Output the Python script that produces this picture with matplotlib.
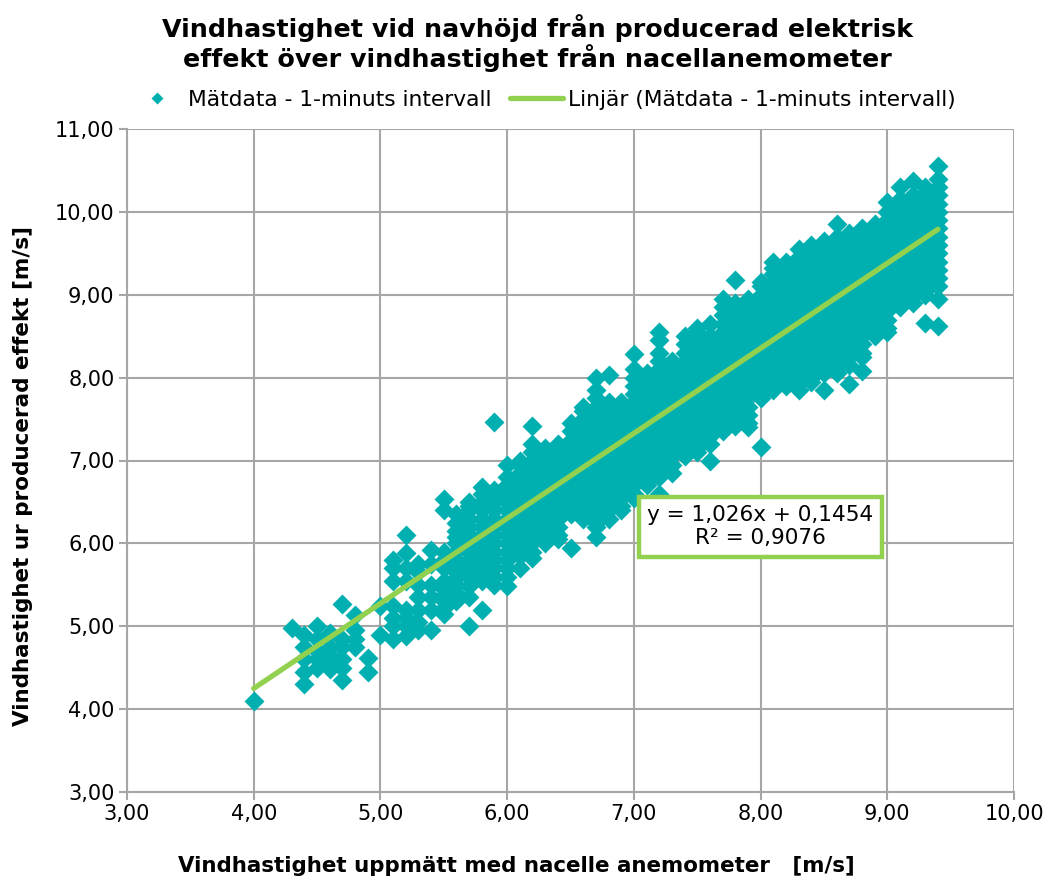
"""
Vindhastighet vid navhöjd mot nacelle-anemometer, spridningsdiagram med linjär trend.
Värdena är avlästa ur bilden, en lista per x-kolumn (0,1 m/s steg).
"""
import matplotlib
matplotlib.use('Agg')
import matplotlib.pyplot as plt
import numpy as np

plt.rcParams['font.family'] = ['DejaVu Sans']

# nacelle wind speed columns
wind_x = [4.0, 4.3, 4.4, 4.5, 4.6, 4.7, 4.8, 4.9, 5.0,
          5.1, 5.2, 5.3, 5.4, 5.5, 5.6, 5.7, 5.8, 5.9, 6.0,
          6.1, 6.2, 6.3, 6.4, 6.5, 6.6, 6.7, 6.8, 6.9, 7.0,
          7.1, 7.2, 7.3, 7.4, 7.5, 7.6, 7.7, 7.8, 7.9, 8.0,
          8.1, 8.2, 8.3, 8.4, 8.5, 8.6, 8.7, 8.8, 8.9, 9.0,
          9.1, 9.2, 9.3, 9.4]

# power-derived wind speed, one list for each column above
wind_y = [
    [4.10],
    [4.98],
    [4.30, 4.45, 4.60, 4.75, 4.90],
    [4.50, 4.60, 4.70, 4.85, 5.00],
    [4.48, 4.55, 4.65, 4.75, 4.92],
    [4.35, 4.50, 4.60, 4.75, 4.85, 5.27],
    [4.75, 4.85, 4.95, 5.13],
    [4.45, 4.62],
    [4.90, 5.25],
    [4.85, 5.00, 5.10, 5.25, 5.55, 5.70, 5.80],
    [4.88, 5.00, 5.10, 5.20, 5.55, 5.70, 5.88, 6.10],
    [4.95, 5.05, 5.20, 5.35, 5.50, 5.65, 5.75],
    [4.96, 5.20, 5.35, 5.50, 5.75, 5.92],
    [5.15, 5.22, 5.30, 5.38, 5.45, 5.55, 5.70, 5.80, 5.90, 6.40, 6.53],
    [5.30, 5.40, 5.50, 5.58, 5.65, 5.72, 5.80, 5.90, 6.00, 6.08, 6.15, 6.25, 6.35],
    [5.00, 5.35, 5.48, 5.60, 5.70, 5.80, 5.90, 6.00, 6.10, 6.20, 6.30, 6.40, 6.45, 6.50],
    [5.20, 5.55, 5.65, 5.75, 5.85, 5.95, 6.02, 6.10, 6.20, 6.30, 6.40, 6.50, 6.60, 6.68],
    [5.50, 5.60, 5.70, 5.80, 5.90, 6.00, 6.10, 6.20, 6.30, 6.40, 6.50, 6.58, 6.65, 7.47],
    [5.48, 5.60, 5.70, 5.80, 5.90, 6.00, 6.10, 6.20, 6.30, 6.40, 6.50, 6.60, 6.70, 6.80, 6.95],
    [5.70, 5.85, 5.95, 6.05, 6.15, 6.25, 6.35, 6.45, 6.55, 6.65, 6.75, 6.85, 6.95, 7.00],
    [5.82, 5.90, 6.00, 6.10, 6.20, 6.30, 6.40, 6.50, 6.60, 6.70, 6.80, 6.90, 7.00, 7.10, 7.20, 7.42],
    [6.00, 6.05, 6.15, 6.25, 6.35, 6.45, 6.55, 6.65, 6.75, 6.85, 6.95, 7.05, 7.15],
    [6.05, 6.10, 6.20, 6.30, 6.40, 6.50, 6.60, 6.70, 6.80, 6.90, 7.00, 7.10, 7.20],
    [5.94, 6.35, 6.45, 6.55, 6.65, 6.75, 6.85, 6.95, 7.05, 7.15, 7.25, 7.35, 7.45],
    [6.30, 6.40, 6.50, 6.60, 6.70, 6.80, 6.90, 7.00, 7.10, 7.20, 7.30, 7.40, 7.50, 7.60, 7.65],
    [6.08, 6.20, 6.25, 6.35, 6.45, 6.55, 6.65, 6.75, 6.85, 6.95, 7.05, 7.15, 7.25, 7.35, 7.45,
     7.55, 7.65, 7.75, 7.85, 8.00],
    [6.30, 6.40, 6.50, 6.60, 6.70, 6.80, 6.90, 7.00, 7.10, 7.20, 7.30, 7.40, 7.50, 7.60, 7.70, 8.03],
    [6.40, 6.45, 6.55, 6.65, 6.75, 6.85, 6.95, 7.05, 7.15, 7.25, 7.35, 7.45, 7.55, 7.65, 7.70],
    [6.55, 6.60, 6.70, 6.80, 6.90, 7.00, 7.10, 7.20, 7.30, 7.40, 7.50, 7.60, 7.70, 7.80, 7.90,
     8.00, 8.10, 8.28],
    [6.70, 6.75, 6.85, 6.95, 7.05, 7.15, 7.25, 7.35, 7.45, 7.55, 7.65, 7.75, 7.85, 7.95, 8.05],
    [6.60, 6.80, 6.90, 7.00, 7.10, 7.20, 7.30, 7.40, 7.50, 7.60, 7.70, 7.80, 7.90, 8.00, 8.10,
     8.20, 8.30, 8.45, 8.55],
    [6.85, 6.95, 7.05, 7.15, 7.25, 7.35, 7.45, 7.55, 7.65, 7.75, 7.85, 7.95, 8.05, 8.12, 8.20],
    [7.05, 7.10, 7.20, 7.30, 7.40, 7.50, 7.60, 7.70, 7.80, 7.90, 8.00, 8.10, 8.20, 8.30, 8.40, 8.50],
    [7.10, 7.15, 7.25, 7.35, 7.45, 7.55, 7.65, 7.75, 7.85, 7.95, 8.05, 8.15, 8.25, 8.35, 8.45,
     8.55, 8.60],
    [7.00, 7.20, 7.30, 7.40, 7.50, 7.60, 7.70, 7.80, 7.90, 8.00, 8.10, 8.20, 8.30, 8.40, 8.50, 8.65],
    [7.35, 7.45, 7.55, 7.65, 7.75, 7.85, 7.95, 8.05, 8.15, 8.25, 8.35, 8.45, 8.55, 8.65, 8.75,
     8.85, 8.95],
    [7.42, 7.50, 7.60, 7.70, 7.80, 7.90, 8.00, 8.10, 8.20, 8.30, 8.40, 8.50, 8.60, 8.70, 8.80,
     8.90, 9.18],
    [7.40, 7.45, 7.55, 7.65, 7.75, 7.85, 7.95, 8.05, 8.15, 8.25, 8.35, 8.45, 8.55, 8.65, 8.75,
     8.85, 8.95],
    [7.16, 7.75, 7.80, 7.90, 8.00, 8.10, 8.20, 8.30, 8.40, 8.50, 8.60, 8.70, 8.80, 8.90, 9.00,
     9.10, 9.15],
    [7.85, 7.95, 8.05, 8.15, 8.25, 8.35, 8.45, 8.55, 8.65, 8.75, 8.85, 8.95, 9.05, 9.15, 9.25,
     9.32, 9.40],
    [7.90, 8.00, 8.10, 8.20, 8.30, 8.40, 8.50, 8.60, 8.70, 8.80, 8.90, 9.00, 9.10, 9.20, 9.30, 9.40],
    [7.85, 7.95, 8.05, 8.15, 8.25, 8.35, 8.45, 8.55, 8.65, 8.75, 8.85, 8.95, 9.05, 9.15, 9.25,
     9.35, 9.45, 9.55],
    [7.95, 8.00, 8.10, 8.20, 8.30, 8.40, 8.50, 8.60, 8.70, 8.80, 8.90, 9.00, 9.10, 9.20, 9.30,
     9.40, 9.50, 9.60],
    [7.85, 8.05, 8.15, 8.25, 8.35, 8.45, 8.55, 8.65, 8.75, 8.85, 8.95, 9.05, 9.15, 9.25, 9.35,
     9.45, 9.55, 9.65],
    [8.05, 8.10, 8.20, 8.30, 8.40, 8.50, 8.60, 8.70, 8.80, 8.90, 9.00, 9.10, 9.20, 9.30, 9.40,
     9.50, 9.60, 9.70, 9.85],
    [7.92, 8.15, 8.25, 8.35, 8.45, 8.55, 8.65, 8.75, 8.85, 8.95, 9.05, 9.15, 9.25, 9.35, 9.45,
     9.55, 9.65, 9.75],
    [8.08, 8.25, 8.30, 8.40, 8.50, 8.60, 8.70, 8.80, 8.90, 9.00, 9.10, 9.20, 9.30, 9.40, 9.50,
     9.60, 9.70, 9.80],
    [8.50, 8.55, 8.65, 8.75, 8.85, 8.95, 9.05, 9.15, 9.25, 9.35, 9.45, 9.55, 9.65, 9.75, 9.85],
    [8.55, 8.60, 8.70, 8.80, 8.90, 9.00, 9.10, 9.20, 9.30, 9.40, 9.50, 9.60, 9.70, 9.80, 9.90,
     10.00, 10.12],
    [8.85, 8.95, 9.05, 9.15, 9.25, 9.35, 9.45, 9.55, 9.65, 9.75, 9.85, 9.95, 10.05, 10.15, 10.30],
    [8.90, 9.00, 9.10, 9.20, 9.30, 9.40, 9.50, 9.60, 9.70, 9.80, 9.90, 10.00, 10.10, 10.20, 10.37],
    [8.66, 9.00, 9.05, 9.15, 9.25, 9.35, 9.45, 9.55, 9.65, 9.75, 9.85, 9.95, 10.05, 10.15, 10.22, 10.30],
    [8.62, 8.95, 9.10, 9.20, 9.30, 9.40, 9.50, 9.60, 9.70, 9.80, 9.90, 10.00,
     10.10, 10.20, 10.30, 10.40, 10.55],
]

# trendline ends, as Excel drew them
trend_x = [4.0, 9.4]
trend_y = [4.25, 9.79]

x_ticks = [3, 4, 5, 6, 7, 8, 9, 10]
y_ticks = [3, 4, 5, 6, 7, 8, 9, 10, 11]

TEAL = '#00B0B0'
GREEN = '#92D14F'
GRID = '#A6A6A6'
W, H = 1047, 877


def comma(v):
    return f'{v:.2f}'.replace('.', ',')


fig = plt.figure(figsize=(W / 100, H / 100), dpi=100)
ax = fig.add_axes([127 / W, 1 - 792 / H, (1014 - 127) / W, (792 - 129) / H])

xs = np.concatenate([[x] * len(ys) for x, ys in zip(wind_x, wind_y)])
ys = np.concatenate(wind_y)
points, = ax.plot(xs, ys, ls='none', marker='D', ms=10, mec='none', color=TEAL,
                  zorder=3, clip_on=False, label='Mätdata - 1-minuts intervall')
trend, = ax.plot(trend_x, trend_y, color=GREEN, lw=3.8, solid_capstyle='round',
                 zorder=4, label='Linjär (Mätdata - 1-minuts intervall)')

ax.set_xlim(3, 10)
ax.set_ylim(3, 11)
ax.set_xticks(x_ticks, [comma(v) for v in x_ticks])
ax.set_yticks(y_ticks, [comma(v) for v in y_ticks])
ax.tick_params(labelsize=15, width=1.5, length=6, pad=3, color=GRID, labelcolor='black')
ax.grid(True, color=GRID, lw=1.5, zorder=0)
ax.set_axisbelow(True)
for side in ['left', 'bottom']:
    ax.spines[side].set_color(GRID)
    ax.spines[side].set_linewidth(1.5)
for side in ['top', 'right']:
    ax.spines[side].set_visible(False)

fig.text(537 / W, 1 - 43 / H,
         'Vindhastighet vid navhöjd från producerad elektrisk\n'
         'effekt över vindhastighet från nacellanemometer',
         ha='center', va='center', fontsize=18.3, fontweight='bold', linespacing=1.1)
fig.text(516 / W, 1 - 866 / H, 'Vindhastighet uppmätt med nacelle anemometer   [m/s]',
         ha='center', va='center', fontsize=15.4, fontweight='bold')
fig.text(23 / W, 1 - 476 / H, 'Vindhastighet ur producerad effekt [m/s]',
         ha='center', va='center', rotation=90, fontsize=15.5, fontweight='bold')

fig.legend(handles=[points, trend], loc='center', bbox_to_anchor=(543 / W, 1 - 100 / H),
           ncol=2, frameon=False, fontsize=15.7, handlelength=2.4, handletextpad=0.25,
           columnspacing=0.85, markerscale=0.6, borderpad=0)

ax.text(8.0, 6.2, 'y = 1,026x + 0,1454\nR² = 0,9076', ha='center', va='center',
        fontsize=15.6, linespacing=1.2, zorder=5,
        bbox=dict(boxstyle='square,pad=0.38', fc='white', ec=GREEN, lw=3.2))

fig.savefig('out.png', dpi=100)
plt.close(fig)
